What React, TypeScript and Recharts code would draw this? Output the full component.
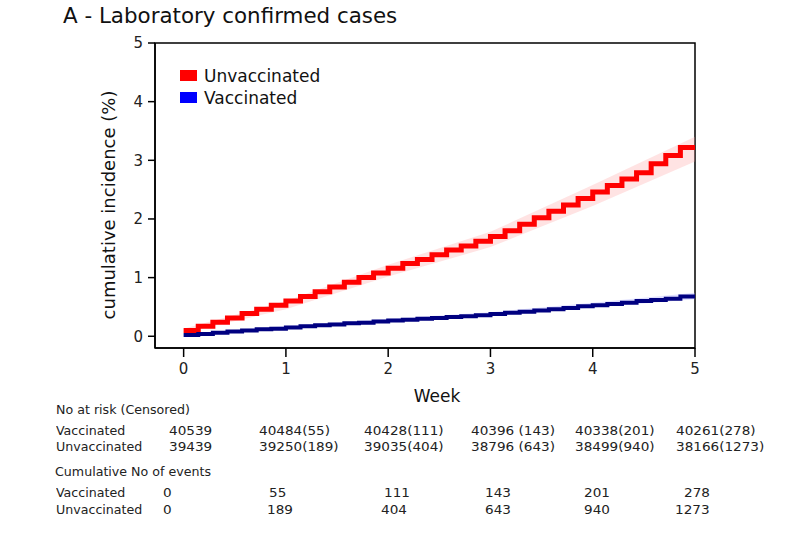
import React from "react";
import { ComposedChart, Line, Area, XAxis, YAxis, ReferenceArea } from "recharts";

// follow-up day (0..35) and cumulative incidence (%)
const days = [0, 1, 2, 3, 4, 5, 6, 7, 8, 9, 10, 11, 12, 13, 14, 15, 16, 17, 18, 19, 20, 21, 22, 23, 24, 25, 26, 27, 28, 29, 30, 31, 32, 33, 34, 35];
const unvaccinated = [0.10, 0.17, 0.24, 0.31, 0.39, 0.46, 0.53, 0.60, 0.68, 0.76, 0.84, 0.92, 1.00, 1.08, 1.16, 1.24, 1.31, 1.39, 1.47, 1.54, 1.62, 1.70, 1.80, 1.91, 2.02, 2.13, 2.24, 2.35, 2.46, 2.57, 2.68, 2.79, 2.94, 3.08, 3.22, 3.22];
const vaccinated = [0.02, 0.04, 0.06, 0.08, 0.10, 0.12, 0.13, 0.15, 0.17, 0.19, 0.20, 0.22, 0.23, 0.25, 0.27, 0.28, 0.30, 0.31, 0.33, 0.34, 0.36, 0.38, 0.40, 0.42, 0.44, 0.46, 0.48, 0.51, 0.53, 0.55, 0.57, 0.60, 0.62, 0.64, 0.68, 0.68];

// confidence bands, weekly
const bandWeeks = [0, 1, 2, 3, 4, 5];
const unvaccinatedLow = [0.06, 0.46, 1.02, 1.52, 2.22, 2.98];
const unvaccinatedHigh = [0.13, 0.6, 1.22, 1.78, 2.58, 3.4];
const vaccinatedLow = [0.0, 0.12, 0.24, 0.34, 0.49, 0.63];
const vaccinatedHigh = [0.04, 0.18, 0.3, 0.41, 0.57, 0.74];

const weekTicks = [0, 1, 2, 3, 4, 5];
const incidenceTicks = [0, 1, 2, 3, 4, 5];

// risk table
const atRiskVaccinated = ["40539", "40484(55)", "40428(111)", "40396 (143)", "40338(201)", "40261(278)"];
const atRiskUnvaccinated = ["39439", "39250(189)", "39035(404)", "38796 (643)", "38499(940)", "38166(1273)"];
const eventsVaccinated = ["0", "55", "111", "143", "201", "278"];
const eventsUnvaccinated = ["0", "189", "404", "643", "940", "1273"];

const curveData = days.map((d, i) => ({
  week: d / 7,
  unvaccinated: unvaccinated[i],
  vaccinated: vaccinated[i],
}));
const unvaxBand = bandWeeks.map((w, i) => ({ week: w, band: [unvaccinatedLow[i], unvaccinatedHigh[i]] }));
const vaxBand = bandWeeks.map((w, i) => ({ week: w, band: [vaccinatedLow[i], vaccinatedHigh[i]] }));

const riskX = [169, 259, 364, 471, 575, 676];
const eventsVaxX = [163, 269, 384, 485, 584, 684];
const eventsUnvaxX = [163, 267, 381, 485, 584, 675];

const tableFont: React.CSSProperties = {
  position: "absolute",
  fontFamily: "DejaVu Sans Condensed",
  fontSize: 13,
  lineHeight: "16px",
  color: "#222",
  whiteSpace: "nowrap",
  transformOrigin: "left center",
};

const Cell = ({ x, y, text, stretch = 1.16 }: { x: number; y: number; text: string; stretch?: number }) => (
  <div style={{ ...tableFont, left: x, top: y - 8, transform: `scaleX(${stretch})` }}>{text}</div>
);

const App = () => {
  return (
    <div style={{ position: "absolute", left: 0, top: 0, width: 800, height: 549, background: "#fff", fontFamily: "DejaVu Sans" }}>
      <div style={{ position: "absolute", left: 63, top: 3, fontSize: 21.4, color: "#111", whiteSpace: "nowrap" }}>
        A - Laboratory confirmed cases
      </div>
      <div style={{ position: "absolute", left: 0, top: 0 }}>
        <ComposedChart width={800} height={400} data={curveData} margin={{ top: 43, right: 105, bottom: 12, left: 95 }}>
          <XAxis
            type="number"
            dataKey="week"
            domain={[-0.28, 5]}
            allowDataOverflow
            ticks={weekTicks}
            height={40}
            tickSize={9}
            tickMargin={6}
            axisLine={{ stroke: "#000", strokeWidth: 1.5 }}
            tickLine={{ stroke: "#000", strokeWidth: 1.5 }}
            tick={{ fill: "#222", fontSize: 15 }}
          />
          <YAxis
            type="number"
            domain={[-0.2, 5]}
            allowDataOverflow
            ticks={incidenceTicks}
            width={60}
            tickSize={7}
            tickMargin={5}
            axisLine={{ stroke: "#000", strokeWidth: 1.5 }}
            tickLine={{ stroke: "#000", strokeWidth: 1.5 }}
            tick={{ fill: "#222", fontSize: 15 }}
          />
          <ReferenceArea x1={-0.28} x2={5} y1={-0.2} y2={5} fill="none" stroke="#000" strokeWidth={1.5} />
          <Area data={unvaxBand} dataKey="band" type="linear" stroke="none" fill="#ff9999" fillOpacity={0.28} isAnimationActive={false} />
          <Area data={vaxBand} dataKey="band" type="linear" stroke="none" fill="#9999ff" fillOpacity={0.3} isAnimationActive={false} />
          <Line dataKey="unvaccinated" type="stepAfter" stroke="#ff0000" strokeWidth={5} dot={false} isAnimationActive={false} />
          <Line dataKey="vaccinated" type="stepAfter" stroke="#000080" strokeWidth={4} dot={false} isAnimationActive={false} />
        </ComposedChart>
      </div>
      {/* axis titles */}
      <div
        style={{
          position: "absolute",
          left: 108,
          top: 205,
          fontSize: 18,
          color: "#111",
          whiteSpace: "nowrap",
          transform: "translate(-50%, -50%) rotate(-90deg)",
        }}
      >
        cumulative incidence (%)
      </div>
      <div style={{ position: "absolute", left: 437, top: 396, fontSize: 17, color: "#111", transform: "translate(-50%, -50%)" }}>
        Week
      </div>
      {/* legend */}
      <div style={{ position: "absolute", left: 180, top: 70, width: 17, height: 11, background: "#ff0000" }} />
      <div style={{ position: "absolute", left: 204, top: 66, fontSize: 17, lineHeight: "20px", color: "#111" }}>Unvaccinated</div>
      <div style={{ position: "absolute", left: 180, top: 92, width: 17, height: 11, background: "#0000ff" }} />
      <div style={{ position: "absolute", left: 204, top: 88, fontSize: 17, lineHeight: "20px", color: "#111" }}>Vaccinated</div>
      {/* risk table */}
      <Cell x={56} y={410} text="No at risk (Censored)" stretch={1.08} />
      <Cell x={56} y={431} text="Vaccinated" stretch={1.08} />
      <Cell x={56} y={447} text="Unvaccinated" stretch={1.08} />
      {atRiskVaccinated.map((t, i) => (
        <Cell key={`rv-${i}`} x={riskX[i]} y={431} text={t} />
      ))}
      {atRiskUnvaccinated.map((t, i) => (
        <Cell key={`ru-${i}`} x={riskX[i]} y={447} text={t} />
      ))}
      <Cell x={55} y={472} text="Cumulative No of events" stretch={1.08} />
      <Cell x={56} y={493} text="Vaccinated" stretch={1.08} />
      <Cell x={56} y={510} text="Unvaccinated" stretch={1.08} />
      {eventsVaccinated.map((t, i) => (
        <Cell key={`ev-${i}`} x={eventsVaxX[i]} y={493} text={t} />
      ))}
      {eventsUnvaccinated.map((t, i) => (
        <Cell key={`eu-${i}`} x={eventsUnvaxX[i]} y={510} text={t} />
      ))}
    </div>
  );
};

export default App;
